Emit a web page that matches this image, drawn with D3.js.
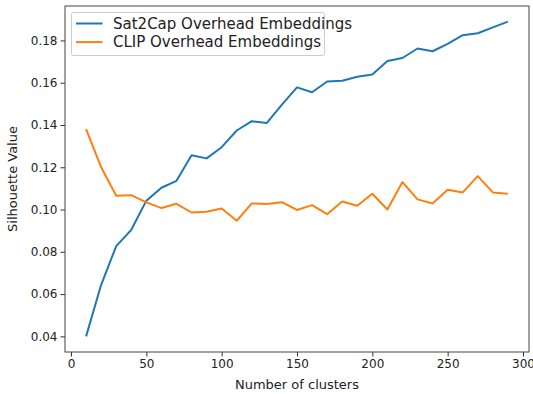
<!DOCTYPE html>
<html>
<head>
<meta charset="utf-8">
<script src="https://cdn.jsdelivr.net/npm/d3@7"></script>
<style>
	body { margin: 0; background: #fff; }
	svg { display: block; font-family: 'DejaVu Sans', sans-serif; }
</style>
</head>
<body>
<div id="chart"></div>
<script>
const clusters = [10, 20, 30, 40, 50, 60, 70, 80, 90, 100, 110, 120, 130, 140, 150,
	160, 170, 180, 190, 200, 210, 220, 230, 240, 250, 260, 270, 280, 290]
const sat2cap = [0.0400, 0.0644, 0.0827, 0.0904, 0.1042, 0.1103, 0.1136, 0.1257, 0.1242, 0.1295,
	0.1374, 0.1418, 0.1410, 0.1496, 0.1578, 0.1555, 0.1606, 0.1609, 0.1628, 0.1639,
	0.1703, 0.1717, 0.1762, 0.1749, 0.1784, 0.1825, 0.1834, 0.1862, 0.1889]
const clip = [0.1380, 0.1200, 0.1065, 0.1068, 0.1034, 0.1007, 0.1027, 0.0986, 0.0990, 0.1005,
	0.0947, 0.1029, 0.1026, 0.1035, 0.0998, 0.1021, 0.0978, 0.1038, 0.1018, 0.1075,
	0.1000, 0.1130, 0.1048, 0.1029, 0.1094, 0.1081, 0.1158, 0.1081, 0.1075]
const xTicks = [0, 50, 100, 150, 200, 250, 300]
const yTicks = [0.04, 0.06, 0.08, 0.10, 0.12, 0.14, 0.16, 0.18]
const seriesNames = ['Sat2Cap Overhead Embeddings', 'CLIP Overhead Embeddings']
const colours = ['#1f77b4', '#ff7f0e']

const width = 533, height = 394
const margin = {top: 6, right: 4, bottom: 42, left: 65}

const svg = d3.select('#chart').append('svg')
	.attr('width', width)
	.attr('height', height)

const x = d3.scaleLinear().domain([-4, 304]).range([margin.left, width - margin.right])
const y = d3.scaleLinear().domain([0.0326, 0.1963]).range([height - margin.bottom, margin.top])

const xAxis = svg.append('g')
	.attr('transform', `translate(0,${height - margin.bottom})`)
	.call(d3.axisBottom(x).tickValues(xTicks).tickSize(4.5).tickPadding(3).tickFormat(d3.format('d')))
const yAxis = svg.append('g')
	.attr('transform', `translate(${margin.left},0)`)
	.call(d3.axisLeft(y).tickValues(yTicks).tickSize(4.5).tickPadding(3).tickFormat(d3.format('.2f')))

for (const ax of [xAxis, yAxis]) {
	ax.select('.domain').remove()
	ax.selectAll('line').attr('stroke', '#333')
	ax.selectAll('text').attr('fill', '#222').style('font-size', '12px').style('font-family', 'DejaVu Sans')
}

const series = [sat2cap, clip]
const line = d3.line().x((d, i) => x(clusters[i])).y(d => y(d))

svg.selectAll('path.series')
	.data(series)
	.enter()
		.append('path')
			.attr('class', 'series')
			.attr('fill', 'none')
			.attr('stroke', (d, i) => colours[i])
			.attr('stroke-width', 2)
			.attr('stroke-linejoin', 'round')
			.attr('d', line)

// frame
svg.append('rect')
	.attr('x', margin.left)
	.attr('y', margin.top)
	.attr('width', width - margin.right - margin.left)
	.attr('height', height - margin.bottom - margin.top)
	.attr('fill', 'none')
	.attr('stroke', '#444')
	.attr('stroke-width', 1)

svg.append('text')
	.attr('x', (margin.left + width - margin.right) / 2)
	.attr('y', 389)
	.attr('text-anchor', 'middle')
	.attr('fill', '#222')
	.style('font-size', '13px')
	.text('Number of clusters')

svg.append('text')
	.attr('transform', `translate(17,${(margin.top + height - margin.bottom) / 2}) rotate(-90)`)
	.attr('text-anchor', 'middle')
	.attr('fill', '#222')
	.style('font-size', '13px')
	.text('Silhouette Value')

// legend
const legend = svg.append('g').attr('transform', 'translate(71.5,12.5)')
legend.append('rect')
	.attr('width', 253)
	.attr('height', 43)
	.attr('rx', 2)
	.attr('fill', '#fff')
	.attr('fill-opacity', 0.8)
	.attr('stroke', '#ccc')

const items = legend.selectAll('g.item')
	.data(seriesNames)
	.enter()
		.append('g')
			.attr('class', 'item')
			.attr('transform', (d, i) => `translate(0,${11 + i * 18.6})`)
items.append('line')
	.attr('x1', 4.5).attr('x2', 31)
	.attr('stroke', (d, i) => colours[i])
	.attr('stroke-width', 2)
items.append('text')
	.attr('x', 41.5)
	.attr('dy', '0.35em')
	.attr('fill', '#222')
	.style('font-size', '15px')
	.text(d => d)
</script>
</body>
</html>
